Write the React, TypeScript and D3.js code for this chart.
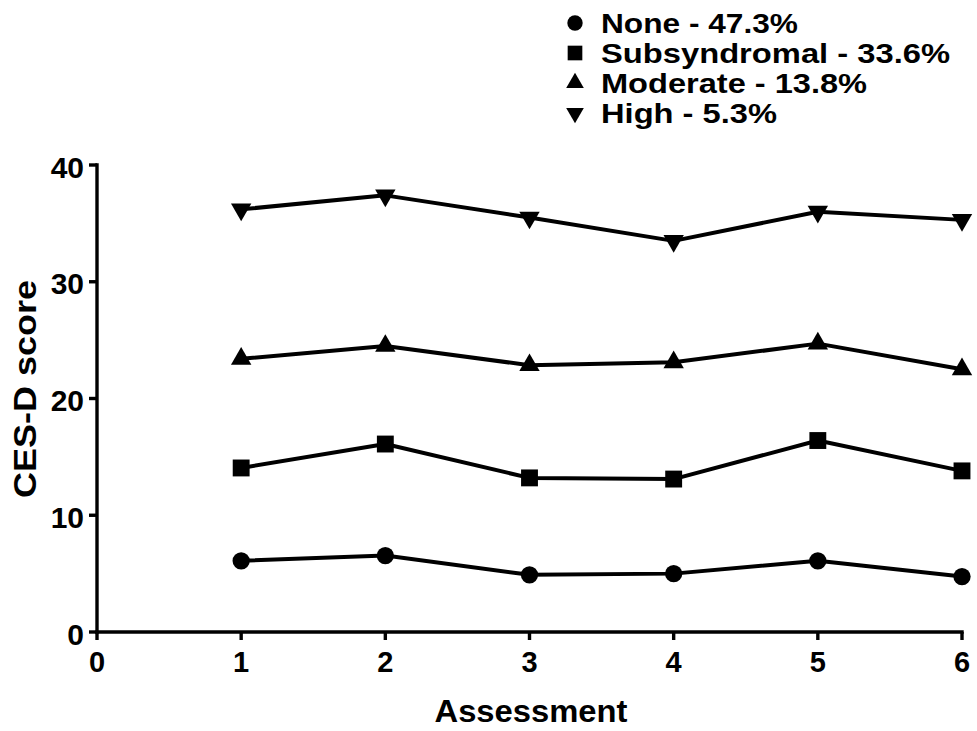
import React from "react";
import * as d3 from "d3";

const assessments = [1, 2, 3, 4, 5, 6];
const noneVals = [6.1, 6.55, 4.9, 5.0, 6.1, 4.75];
const subVals = [14.05, 16.1, 13.2, 13.1, 16.4, 13.8];
const modVals = [23.4, 24.5, 22.85, 23.1, 24.7, 22.5];
const highVals = [36.2, 37.4, 35.5, 33.5, 36.0, 35.3];
const seriesNames = ["None - 47.3%", "Subsyndromal - 33.6%", "Moderate - 13.8%", "High - 5.3%"];
const xTicks = [0, 1, 2, 3, 4, 5, 6];
const yTicks = [0, 10, 20, 30, 40];

const W = 977, H = 731;
const FONT = "'Liberation Sans', Arial, Helvetica, sans-serif";

export default function App() {
  const x = d3.scaleLinear().domain([0, 6]).range([97, 962]);
  const y = d3.scaleLinear().domain([0, 40]).range([632, 165]);
  const line = d3.line<number>().x((_, i) => x(assessments[i])).y((v) => y(v));

  const series = [
    { name: seriesNames[0], vals: noneVals, sym: d3.symbolCircle, size: 235, rot: 0, lsize: 185, lw: 197 },
    { name: seriesNames[1], vals: subVals, sym: d3.symbolSquare, size: 285, rot: 0, lsize: 215, lw: 349 },
    { name: seriesNames[2], vals: modVals, sym: d3.symbolTriangle, size: 180, rot: 0, lsize: 135, lw: 266 },
    { name: seriesNames[3], vals: highVals, sym: d3.symbolTriangle, size: 180, rot: 180, lsize: 135, lw: 176 },
  ];

  const legendY = [23, 53, 83, 113];

  return (
    <svg width={W} height={H} style={{ display: "block", position: "absolute", left: 0, top: 0, background: "#fff" }}>
      <rect x={0} y={0} width={W} height={H} fill="#fff" />
      {/* axes */}
      <line x1={x(0)} x2={x(6)} y1={y(0)} y2={y(0)} stroke="#000" strokeWidth={3.4} strokeLinecap="square" />
      <line x1={x(0)} x2={x(0)} y1={y(0)} y2={y(40)} stroke="#000" strokeWidth={3.4} strokeLinecap="square" />
      {xTicks.map((t) => (
        <g key={"xt" + t}>
          <line x1={x(t)} x2={x(t)} y1={y(0)} y2={y(0) + 8} stroke="#000" strokeWidth={3.4} />
          <text x={x(t)} y={672} textAnchor="middle" fontFamily={FONT} fontWeight="bold" fontSize={29} fill="#000">{t}</text>
        </g>
      ))}
      {yTicks.map((t) => (
        <g key={"yt" + t}>
          <line x1={x(0) - 8} x2={x(0)} y1={y(t)} y2={y(t)} stroke="#000" strokeWidth={3.4} />
          <text x={84} y={y(t) + 12.5} textAnchor="end" fontFamily={FONT} fontWeight="bold" fontSize={30} fill="#000">{t}</text>
        </g>
      ))}
      <text x={531} y={722} textAnchor="middle" fontFamily={FONT} fontWeight="bold" fontSize={31} fill="#000" textLength={193} lengthAdjust="spacingAndGlyphs">Assessment</text>
      <text transform="translate(36,389) rotate(-90)" textAnchor="middle" fontFamily={FONT} fontWeight="bold" fontSize={31} fill="#000" textLength={218} lengthAdjust="spacingAndGlyphs">CES-D score</text>

      {/* series */}
      {series.map((s, si) => (
        <g key={"s" + si}>
          <path d={line(s.vals) || ""} fill="none" stroke="#000" strokeWidth={4} strokeLinejoin="round" />
          {s.vals.map((v, i) => (
            <path key={i} d={d3.symbol().type(s.sym).size(s.size)() || ""} transform={`translate(${x(assessments[i])},${y(v)}) rotate(${s.rot})`} fill="#000" />
          ))}
        </g>
      ))}

      {/* legend */}
      {series.map((s, si) => (
        <g key={"l" + si}>
          <path d={d3.symbol().type(s.sym).size(s.lsize)() || ""} transform={`translate(575,${legendY[si]}) rotate(${s.rot})`} fill="#000" />
          <text x={601} y={legendY[si] + 10} fontFamily={FONT} fontWeight="bold" fontSize={28} fill="#000" textLength={s.lw} lengthAdjust="spacingAndGlyphs">{s.name}</text>
        </g>
      ))}
    </svg>
  );
}
